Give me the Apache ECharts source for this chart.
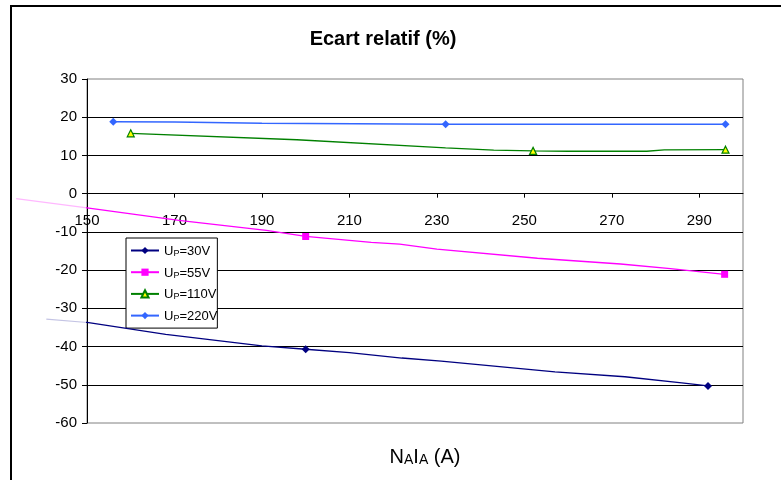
<!DOCTYPE html>
<html><head><meta charset="utf-8">
<script src="https://cdn.jsdelivr.net/npm/echarts@6/dist/echarts.min.js"></script>
<style>html,body{margin:0;padding:0;background:#fff}#c{width:781px;height:480px}</style>
</head><body><div id="c"></div>
<script>
// ---- data ----
const seriesNames = ['UP=30V', 'UP=55V', 'UP=110V', 'UP=220V'];

const x30 = [140.7, 150, 168, 190, 200, 210, 222, 231, 257, 273, 286, 292];
const y30 = [-32.8, -33.7, -36.8, -39.8, -40.7, -41.6, -43.0, -43.8, -46.6, -47.9, -49.5, -50.3];
const marks30 = [200, 292];

const x55 = [133.8, 150, 171, 191, 200, 215, 221.5, 230, 253, 272, 283.4, 295.8];
const y55 = [-1.3, -3.7, -7.0, -9.6, -11.2, -12.75, -13.2, -14.5, -16.9, -18.4, -19.6, -21.1];
const marks55 = [200, 295.8];

const x110 = [160, 198, 232, 243, 252, 260, 278, 282, 296];
const y110 = [15.8, 14.1, 12.0, 11.4, 11.2, 11.1, 11.1, 11.45, 11.5];
const marks110 = [160, 252, 296];

const x220 = [156, 170, 190, 232, 296];
const y220 = [18.8, 18.75, 18.4, 18.15, 18.15];
const marks220 = [156, 232, 296];

const xMin = 150, xMax = 300, xStep = 20;
const yMin = -60, yMax = 30, yStep = 10;

// ---- chart ----
const FONT = '"Liberation Sans", Arial, sans-serif';
function pts(xs, ys, marks) {
  return xs.map((x, i) => marks.includes(x) ? [x, ys[i]] : { value: [x, ys[i]], symbol: 'none' });
}

const colors = ['#000080', '#FF00FF', '#008000', '#3366FF'];

const baseGraphic = [
  { id: 'frame', type: 'rect', shape: { x: 11, y: 6, width: 900, height: 600 }, style: { fill: 'none', stroke: '#000', lineWidth: 2 }, silent: true, z: 0 },
  { id: 'title', type: 'text', x: 383, y: 39, style: { text: 'Ecart relatif (%)', fontFamily: FONT, fontSize: 20, fontWeight: 'bold', fill: '#000', align: 'center', verticalAlign: 'middle' } },
  { id: 'xname', type: 'text', x: 425, y: 456, style: {
      text: '{n|N}{s|A}{n|I}{s|A}{n| (A)}', align: 'center', verticalAlign: 'middle', fill: '#000',
      rich: {
        n: { fontFamily: FONT, fontSize: 20, lineHeight: 22, verticalAlign: 'bottom', fill: '#000' },
        s: { fontFamily: FONT, fontSize: 14, lineHeight: 16, verticalAlign: 'bottom', fill: '#000' }
      } } }
];

const chart = echarts.init(document.getElementById('c'), null, { renderer: 'canvas' });
chart.setOption({
  backgroundColor: '#fff',
  animation: false,
  graphic: baseGraphic,
  grid: { left: 87, top: 79, width: 656, height: 344, show: true, borderColor: '#808080', borderWidth: 1, backgroundColor: '#fff' },
  legend: {
    data: seriesNames,
    orient: 'vertical', left: 126, top: 238,
    backgroundColor: '#fff', borderColor: '#000', borderWidth: 1, borderRadius: 0,
    padding: [7, 0, 5, 4], itemGap: 8.7, itemWidth: 28, itemHeight: 9,
    formatter: name => '{a|U}{b|P}{a|' + name.slice(2) + '}',
    textStyle: {
      rich: {
        a: { fontFamily: FONT, fontSize: 13, lineHeight: 15, verticalAlign: 'bottom', color: '#000' },
        b: { fontFamily: FONT, fontSize: 9, lineHeight: 11, verticalAlign: 'bottom', color: '#000' }
      }
    }
  },
  xAxis: {
    type: 'value', min: xMin, max: xMax, interval: xStep,
    axisLine: { onZero: true, lineStyle: { color: '#000', width: 1 } },
    axisTick: { show: true, length: 4, lineStyle: { color: '#000' } },
    axisLabel: { fontFamily: FONT, fontSize: 15, color: '#000', margin: -210, showMaxLabel: false },
    splitLine: { show: false }
  },
  yAxis: {
    type: 'value', min: yMin, max: yMax, interval: yStep,
    axisLine: { show: true, onZero: false, lineStyle: { color: '#000', width: 1 } },
    axisTick: { show: true, length: 5, lineStyle: { color: '#000' } },
    axisLabel: { fontFamily: FONT, fontSize: 15, color: '#000', margin: 10 },
    splitLine: { show: true, showMinLine: false, showMaxLine: false, lineStyle: { color: '#000', width: 1 } }
  },
  series: [
    { name: seriesNames[0], type: 'line', data: pts(x30, y30, marks30), z: 6,
      symbol: 'diamond', symbolSize: 8, showSymbol: true,
      lineStyle: { color: colors[0], width: 1.3 }, itemStyle: { color: colors[0] } },
    { name: seriesNames[1], type: 'line', data: pts(x55, y55, marks55), z: 6,
      symbol: 'rect', symbolSize: 7, showSymbol: true,
      lineStyle: { color: colors[1], width: 1.3 }, itemStyle: { color: colors[1] } },
    { name: seriesNames[2], type: 'line', data: pts(x110, y110, marks110), z: 6,
      symbol: 'triangle', symbolSize: 7, showSymbol: true,
      lineStyle: { color: colors[2], width: 1.3 }, itemStyle: { color: '#FFFF00', borderColor: colors[2], borderWidth: 1.2 } },
    { name: seriesNames[3], type: 'line', data: pts(x220, y220, marks220), z: 6,
      symbol: 'diamond', symbolSize: 8, showSymbol: true,
      lineStyle: { color: colors[3], width: 1.5 }, itemStyle: { color: colors[3] } }
  ]
});

// faint parts of the lines that spill outside the plot area (left of xMin), placed via the chart's own scales
function outside(xs, ys) {
  const p = [];
  for (let i = 0; i < xs.length; i++) {
    if (xs[i] <= xMin) p.push(chart.convertToPixel({ gridIndex: 0 }, [xs[i], ys[i]]));
  }
  return p;
}
chart.setOption({
  graphic: baseGraphic.concat([
    { id: 'ext30', type: 'polyline', shape: { points: outside(x30, y30) }, style: { stroke: '#C4C4E4', lineWidth: 1.2, fill: null }, silent: true, z: 1 },
    { id: 'ext55', type: 'polyline', shape: { points: outside(x55, y55) }, style: { stroke: '#FFB8FF', lineWidth: 1.2, fill: null }, silent: true, z: 1 }
  ])
});
</script>
</body></html>
